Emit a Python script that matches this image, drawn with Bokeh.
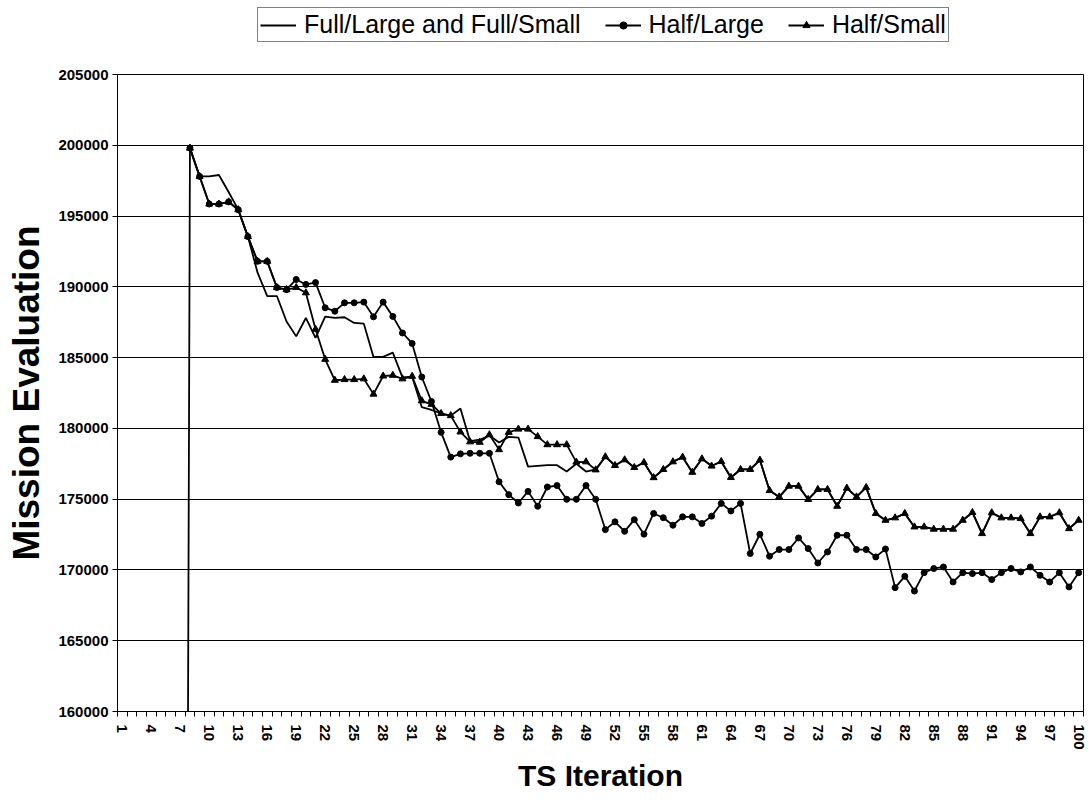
import math
from bokeh.plotting import figure
from bokeh.layouts import column
from bokeh.models import (FixedTicker, Legend, LegendItem, Range1d, ColumnDataSource,
                          BasicTickFormatter)
from bokeh.embed import file_html
from bokeh.resources import INLINE

NaN = float("nan")

iterations = list(range(1, 101))

full_values = [0, 0, 0, 0, 0, 0, 0,
    199800, 197800, 197800, 197900, 196700, 195450, 193550, 191000, 189350, 189350,
    187550, 186500, 187800, 186400, 187900, 187800, 187850, 187450, 187400, 185050,
    185050, 185350, 183600, 183650, 181500, 181300, 181050, 180900, 181400, 179100,
    179200, 179500, 179000, 179400, 179350, 177300, 177350, 177400, 177400, 176950,
    177500, 176950, 177100, 178000, 177380, 177780, 177240, 177590, 176520, 177100,
    177640, 177970, 176900, 177850, 177340, 177660, 176530, 177100, 177100, 177760,
    175610, 175160, 175920, 175920, 174980, 175690, 175690, 174500, 175780, 175160,
    175830, 173990, 173510, 173680, 173990, 173040, 173040, 172880, 172880, 172880,
    173510, 174060, 172570, 174040, 173680, 173680, 173630, 172570, 173750, 173750,
    174040, 172920, 173510]

half_large = [NaN, NaN, NaN, NaN, NaN, NaN, NaN,
    199800, 197800, 195850, 195850, 196000, 195450, 193550, 191800, 191800, 189950,
    189800, 190520, 190170, 190300, 188520, 188280, 188870, 188870, 188920, 187880,
    188920, 187910, 186740, 186000, 183630, 181900, 179720, 177970, 178200, 178240,
    178240, 178240, 176230, 175320, 174730, 175550, 174500, 175860, 175960, 174990,
    174990, 175960, 174990, 172850, 173400, 172730, 173550, 172530, 173990, 173690,
    173160, 173750, 173750, 173280, 173800, 174700, 174170, 174700, 171160, 172520,
    170970, 171440, 171440, 172260, 171510, 170490, 171270, 172450, 172450, 171440,
    171440, 170920, 171480, 168750, 169550, 168510, 169810, 170100, 170210, 169150,
    169810, 169740, 169810, 169320, 169810, 170100, 169860, 170210, 169620, 169150,
    169810, 168800, 169810]

half_small = [NaN, NaN, NaN, NaN, NaN, NaN, NaN,
    199800, 197800, 195850, 195850, 196000, 195450, 193550, 191800, 191800, 189950,
    189800, 189950, 189580, 187000, 184880, 183400, 183450, 183450, 183500, 182420,
    183700, 183750, 183500, 183680, 181950, 181700, 181050, 180900, 179750, 179050,
    179020, 179550, 178500, 179720, 179950, 179950, 179420, 178850, 178850, 178850,
    177620, 177640, 177070, 178000, 177380, 177780, 177240, 177590, 176520, 177100,
    177640, 177970, 176900, 177850, 177340, 177660, 176530, 177100, 177100, 177760,
    175610, 175160, 175920, 175920, 174980, 175690, 175690, 174500, 175780, 175160,
    175830, 173990, 173510, 173680, 173990, 173040, 173040, 172880, 172880, 172880,
    173510, 174060, 172570, 174040, 173680, 173680, 173630, 172570, 173750, 173750,
    174040, 172920, 173510]

x_tick_labels = ["1", "4", "7", "10", "13", "16", "19", "22", "25", "28", "31", "34",
                 "37", "40", "43", "46", "49", "52", "55", "58", "61", "64", "67", "70",
                 "73", "76", "79", "82", "85", "88", "91", "94", "97", "100"]
y_ticks = [160000, 165000, 170000, 175000, 180000, 185000, 190000, 195000, 200000, 205000]

series_names = ["Full/Large and Full/Small", "Half/Large", "Half/Small"]

FONT = "Liberation Sans"
LW = 1.8
W = 1087
LEFT = 117

src = ColumnDataSource(dict(x=iterations, full=full_values, hl=half_large, hs=half_small))

p = figure(width=W, height=736, output_backend="svg", toolbar_location=None,
           x_range=Range1d(0.5, 100.5), y_range=Range1d(160000, 205000),
           min_border_left=LEFT, min_border_right=4, min_border_top=10,
           min_border_bottom=89, background_fill_color="white",
           border_fill_color="white")

p.outline_line_color = "black"
p.outline_line_width = 1

r_full = p.line("x", "full", source=src, line_color="black", line_width=LW)
r_hl_line = p.line("x", "hl", source=src, line_color="black", line_width=LW)
r_hl_pts = p.scatter("x", "hl", source=src, marker="circle", size=6,
                     fill_color="black", line_color="black")
r_hs_line = p.line("x", "hs", source=src, line_color="black", line_width=LW)
r_hs_pts = p.scatter("x", "hs", source=src, marker="triangle", size=7,
                     fill_color="black", line_color="black")

# axes
xt = [int(s) for s in x_tick_labels]
p.xaxis.ticker = FixedTicker(ticks=xt, minor_ticks=[i + 0.5 for i in range(0, 101)])
p.xaxis.major_label_overrides = {int(s): s for s in x_tick_labels}
p.xaxis.major_label_orientation = "vertical"
p.xaxis.major_tick_in = 0
p.xaxis.major_tick_out = 0
p.xaxis.minor_tick_in = 0
p.xaxis.minor_tick_out = 5
p.xaxis.minor_tick_line_color = "black"
p.xaxis.major_label_standoff = 8
p.xaxis.axis_label = "TS Iteration"
p.xaxis.axis_label_standoff = 6

p.yaxis.ticker = FixedTicker(ticks=y_ticks)
p.yaxis.formatter = BasicTickFormatter(use_scientific=False)
p.yaxis.major_tick_in = 0
p.yaxis.major_tick_out = 5
p.yaxis.minor_tick_out = 0
p.yaxis.minor_tick_in = 0
p.yaxis.major_label_standoff = 4
p.yaxis.axis_label = "Mission Evaluation"
p.yaxis.axis_label_standoff = 8

for ax in (p.xaxis[0], p.yaxis[0]):
    ax.axis_line_color = "black"
    ax.axis_line_width = 1
    ax.major_tick_line_color = "black"
    ax.major_label_text_font = FONT
    ax.major_label_text_font_style = "bold"
    ax.major_label_text_color = "black"
    ax.axis_label_text_font = FONT
    ax.axis_label_text_font_style = "bold"
    ax.axis_label_text_color = "black"

p.xaxis.major_label_text_font_size = "15px"
p.yaxis.major_label_text_font_size = "15px"
p.xaxis.axis_label_text_font_size = "30px"
p.yaxis.axis_label_text_font_size = "37px"

p.xgrid.visible = False
p.ygrid.ticker = FixedTicker(ticks=y_ticks)
p.ygrid.grid_line_color = "black"
p.ygrid.grid_line_width = 1

# legend strip above the chart (separate canvas so it is not clipped)
lg = figure(width=W, height=64, output_backend="svg", toolbar_location=None,
            x_range=Range1d(0, 1), y_range=Range1d(0, 1),
            min_border=0, background_fill_color="white", border_fill_color="white")
lg.axis.visible = False
lg.grid.visible = False
lg.outline_line_color = None
offscreen = ColumnDataSource(dict(x=[-10], y=[-10]))
l_full = lg.line("x", "y", source=offscreen, line_color="black", line_width=LW)
l_hl_line = lg.line("x", "y", source=offscreen, line_color="black", line_width=LW)
l_hl_pts = lg.scatter("x", "y", source=offscreen, marker="circle", size=6,
                      fill_color="black", line_color="black")
l_hs_line = lg.line("x", "y", source=offscreen, line_color="black", line_width=LW)
l_hs_pts = lg.scatter("x", "y", source=offscreen, marker="triangle", size=7,
                      fill_color="black", line_color="black")

legend = Legend(items=[
    LegendItem(label=series_names[0], renderers=[l_full]),
    LegendItem(label=series_names[1], renderers=[l_hl_line, l_hl_pts]),
    LegendItem(label=series_names[2], renderers=[l_hs_line, l_hs_pts]),
], orientation="horizontal", location=(257 - LEFT, 22))
legend.border_line_color = "black"
legend.border_line_width = 1
legend.label_text_font = FONT
legend.label_text_font_size = "25px"
legend.label_text_color = "black"
legend.glyph_width = 36
legend.glyph_height = 18
legend.label_standoff = 8
legend.spacing = 24
legend.padding = 2
legend.margin = 0
lg.add_layout(legend, "center")

layout = column(lg, p, spacing=0)
open("out.html", "w").write(file_html(layout, INLINE))
